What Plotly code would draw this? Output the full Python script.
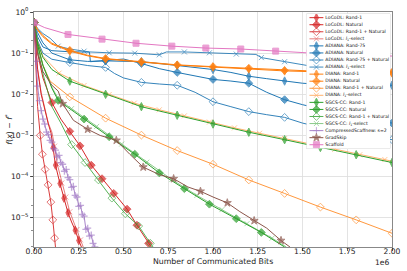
import plotly.graph_objects as go

# ---------------- data (x in millions of communicated bits) ----------------
locodl_rand1_x = [0, 0.01, 0.02, 0.04, 0.06, 0.08, 0.095, 0.107, 0.12, 0.145, 0.167, 0.19, 0.21, 0.23, 0.25, 0.265]
locodl_rand1_y = [0.55, 0.126, 0.040, 0.010, 4.0e-3, 1.9e-3, 1.15e-3, 5.1e-4, 1.9e-4, 6.8e-5, 3.0e-5, 1.32e-5, 7.9e-6, 5.0e-6, 2.8e-6, 1.95e-6]

locodl_nat_x = [0, 0.02, 0.05, 0.1, 0.15, 0.2, 0.257, 0.32, 0.38, 0.446, 0.52, 0.575, 0.64, 0.655]
locodl_nat_y = [0.55, 0.1, 0.025, 6.3e-3, 2.5e-3, 1.26e-3, 5.6e-4, 1.9e-4, 8.9e-5, 3.9e-5, 1.62e-5, 6.6e-6, 2.4e-6, 1.95e-6]

locodl_rn_x = [0, 0.005, 0.01, 0.02, 0.035, 0.047, 0.062, 0.079, 0.094, 0.105, 0.115, 0.12]
locodl_rn_y = [0.55, 0.158, 0.040, 5.0e-3, 1.0e-3, 3.5e-4, 1.5e-4, 6.3e-5, 2.4e-5, 8.9e-6, 3.2e-6, 1.95e-6]

locodl_l1_x = [0, 0.01, 0.02, 0.04, 0.06, 0.08, 0.1, 0.115, 0.13, 0.155, 0.178, 0.2, 0.22, 0.24, 0.26, 0.275]
locodl_l1_y = [0.55, 0.13, 0.042, 0.011, 4.3e-3, 2.0e-3, 1.2e-3, 5.5e-4, 2.0e-4, 7.0e-5, 3.2e-5, 1.4e-5, 8.3e-6, 5.2e-6, 2.9e-6, 1.95e-6]

adiana_rand_x = [0, 0.02, 0.05, 0.1, 0.2, 0.3, 0.4, 0.5, 0.6, 0.7, 0.8, 0.9, 1.0, 1.1, 1.2, 1.3, 1.4, 1.5, 1.6, 1.8, 2.0]
adiana_rand_y = [0.55, 0.316, 0.178, 0.1, 0.069, 0.063, 0.065, 0.063, 0.062, 0.056, 0.050, 0.045, 0.040, 0.034, 0.0275, 0.024, 0.021, 0.0186, 0.0174, 0.017, 0.0166]

adiana_nat_x = [0, 0.02, 0.05, 0.1, 0.2, 0.31, 0.315, 0.4, 0.5, 0.6, 0.7, 0.8, 0.9, 1.0, 1.1, 1.2, 1.3, 1.4, 1.5, 1.6, 1.8, 2.0]
adiana_nat_y = [0.55, 0.25, 0.141, 0.115, 0.108, 0.106, 0.062, 0.066, 0.072, 0.056, 0.042, 0.034, 0.028, 0.023, 0.021, 0.0186, 0.0112, 7.4e-3, 5.6e-3, 4.5e-3, 2.8e-3, 2.0e-3]

adiana_rn_x = [0, 0.02, 0.05, 0.1, 0.2, 0.3, 0.4, 0.45, 0.5, 0.6, 0.7, 0.8, 0.9, 1.0, 1.1, 1.2, 1.3, 1.4, 1.5, 1.6, 1.8, 2.0]
adiana_rn_y = [0.55, 0.2, 0.1, 0.071, 0.059, 0.050, 0.045, 0.032, 0.025, 0.0195, 0.0178, 0.0166, 0.0112, 6.6e-3, 5.0e-3, 3.8e-3, 3.2e-3, 2.75e-3, 2.0e-3, 1.58e-3, 1.12e-3, 7.9e-4]

adiana_l1_x = [0, 0.02, 0.05, 0.09, 0.135, 0.2, 0.28, 0.31, 0.42, 0.563, 0.70, 0.74, 0.84, 0.98, 1.13, 1.24, 1.27, 1.40, 1.54, 1.68, 1.82, 1.96, 2.0]
adiana_l1_y = [0.55, 0.40, 0.30, 0.23, 0.148, 0.126, 0.112, 0.107, 0.102, 0.100, 0.091, 0.107, 0.107, 0.102, 0.095, 0.093, 0.078, 0.062, 0.049, 0.045, 0.040, 0.036, 0.035]

diana_rand_x = [0, 0.02, 0.05, 0.1, 0.2, 0.3, 0.4, 0.6, 0.8, 1.0, 1.2, 1.4, 1.6, 1.8, 2.0]
diana_rand_y = [0.55, 0.36, 0.25, 0.165, 0.112, 0.086, 0.072, 0.060, 0.051, 0.046, 0.041, 0.037, 0.035, 0.034, 0.033]

diana_nat_x = [0, 0.02, 0.05, 0.1, 0.2, 0.3, 0.4, 0.6, 0.8, 1.0, 1.2, 1.4, 1.6, 1.8, 2.0]
diana_nat_y = [0.55, 0.38, 0.269, 0.174, 0.117, 0.089, 0.074, 0.062, 0.052, 0.047, 0.043, 0.038, 0.036, 0.035, 0.034]

diana_rn_x = [0, 0.02, 0.05, 0.09, 0.2, 0.3, 0.4, 0.6, 0.8, 1.0, 1.2, 1.4, 1.6, 1.8, 2.0]
diana_rn_y = [0.55, 0.158, 0.050, 0.0209, 8.7e-3, 4.7e-3, 2.63e-3, 1.02e-3, 4.3e-4, 2.0e-4, 8.3e-5, 3.9e-5, 1.82e-5, 8.9e-6, 4.2e-6]

diana_l1_x = [0, 0.02, 0.05, 0.14, 0.28, 0.42, 0.56, 0.70, 0.84, 0.98, 1.12, 1.26, 1.40, 1.54, 1.68, 1.82, 1.96, 2.0]
diana_l1_y = [0.55, 0.19, 0.084, 0.0327, 0.0164, 9.9e-3, 6.1e-3, 4.2e-3, 2.99e-3, 2.11e-3, 1.53e-3, 1.13e-3, 8.4e-4, 6.2e-4, 4.6e-4, 3.4e-4, 2.6e-4, 2.37e-4]

sgcs_rand_x = [0, 0.02, 0.05, 0.1, 0.2, 0.4, 0.6, 0.8, 1.0, 1.2, 1.4, 1.6, 1.8, 2.0]
sgcs_rand_y = [0.55, 0.178, 0.079, 0.040, 0.0209, 0.0100, 5.0e-3, 3.1e-3, 1.9e-3, 1.2e-3, 7.9e-4, 5.1e-4, 3.4e-4, 2.2e-4]

sgcs_nat_x = [0, 0.02, 0.05, 0.1, 0.135, 0.28, 0.42, 0.563, 0.70, 0.84, 0.98, 1.13, 1.27, 1.40]
sgcs_nat_y = [0.55, 0.158, 0.050, 0.0141, 7.1e-3, 2.5e-3, 9.3e-4, 3.5e-4, 1.23e-4, 5.1e-5, 2.14e-5, 9.5e-6, 4.4e-6, 1.95e-6]

sgcs_rn_x = [0, 0.02, 0.05, 0.1, 0.15, 0.21, 0.285, 0.36, 0.435, 0.51, 0.585, 0.65, 0.665]
sgcs_rn_y = [0.55, 0.126, 0.0316, 5.0e-3, 2.0e-3, 6.0e-4, 2.2e-4, 8.3e-5, 3.0e-5, 1.26e-5, 6.3e-6, 2.4e-6, 1.95e-6]

sgcs_l1_x = [0, 0.02, 0.05, 0.1, 0.14, 0.21, 0.35, 0.49, 0.63, 0.77, 0.91, 1.05, 1.19, 1.33, 1.41]
sgcs_l1_y = [0.55, 0.165, 0.052, 0.0148, 7.2e-3, 4.5e-3, 1.66e-3, 6.2e-4, 2.24e-4, 8.5e-5, 3.5e-5, 1.58e-5, 7.2e-6, 3.2e-6, 1.95e-6]

cscaff_x = [0, 0.01, 0.02, 0.03, 0.04, 0.05, 0.06, 0.07, 0.08, 0.09, 0.10, 0.11, 0.12, 0.13, 0.14, 0.15, 0.16,
            0.17, 0.18, 0.19, 0.20, 0.21, 0.22, 0.23, 0.24, 0.25, 0.26, 0.27, 0.28, 0.29, 0.30, 0.31, 0.32, 0.33, 0.34]
cscaff_y = [0.55, 0.063, 0.0158, 7.0e-3, 4.0e-3, 2.5e-3, 1.9e-3, 1.2e-3, 1.05e-3, 7.6e-4, 6.9e-4, 4.8e-4, 4.4e-4,
            3.0e-4, 3.3e-4, 2.2e-4, 2.0e-4, 1.35e-4, 1.5e-4, 9.5e-5, 8.5e-5, 5.5e-5, 5.8e-5, 3.5e-5, 3.2e-5, 1.9e-5,
            2.0e-5, 1.2e-5, 1.1e-5, 5.2e-6, 5.6e-6, 3.6e-6, 3.8e-6, 2.4e-6, 1.95e-6]

gradskip_x = [0, 0.02, 0.05, 0.1, 0.135, 0.16, 0.22, 0.3, 0.37, 0.46, 0.535, 0.61, 0.7, 0.78, 0.86, 0.93, 1.0, 1.08,
              1.15, 1.23, 1.3, 1.38, 1.43]
gradskip_y = [0.55, 0.1, 0.0355, 0.0166, 0.012, 5.9e-3, 2.34e-3, 1.41e-3, 1.0e-3, 7.6e-4, 3.5e-4, 1.7e-4, 1.12e-4,
              8.9e-5, 5.6e-5, 4.4e-5, 3.2e-5, 2.3e-5, 1.41e-5, 8.5e-6, 5.6e-6, 2.8e-6, 1.95e-6]

scaffold_x = [0, 0.06, 0.19, 0.38, 0.57, 0.77, 0.96, 1.155, 1.35, 1.54, 1.73, 1.93, 2.0]
scaffold_y = [0.55, 0.417, 0.285, 0.219, 0.174, 0.148, 0.133, 0.126, 0.112, 0.101, 0.093, 0.087, 0.085]

x_tick_vals = [0, 0.25, 0.5, 0.75, 1.0, 1.25, 1.5, 1.75, 2.0]
x_tick_text = ["0.00", "0.25", "0.50", "0.75", "1.00", "1.25", "1.50", "1.75", "2.00"]
y_tick_vals = [1, 1e-1, 1e-2, 1e-3, 1e-4, 1e-5]
y_tick_text = ["10<sup>0</sup>", "10<sup>−1</sup>", "10<sup>−2</sup>", "10<sup>−3</sup>",
               "10<sup>−4</sup>", "10<sup>−5</sup>"]

L1 = "<i>l</i><sub>1</sub>-select"
RED, BLUE, ORANGE, GREEN = "#d62728", "#1f77b4", "#ff7f0e", "#2ca02c"

series = [
    dict(name="LoCoDL: Rand-1", x=locodl_rand1_x, y=locodl_rand1_y, c=RED, sym="diamond-tall", op=1.0, mk=[0, 7, 8, 9, 10, 11, 13, 14], sz=6),
    dict(name="LoCoDL: Natural", x=locodl_nat_x, y=locodl_nat_y, c=RED, sym="diamond", op=1.0, mk=[0, 3, 5, 6, 7, 8, 9, 10, 11, 12], sz=6),
    dict(name="LoCoDL: Rand-1 + Natural", x=locodl_rn_x, y=locodl_rn_y, c=RED, sym="diamond-open", op=0.9, mk=[0, 4, 5, 6, 7, 8, 9, 10], sz=6),
    dict(name="LoCoDL: " + L1, x=locodl_l1_x, y=locodl_l1_y, c=RED, sym="x-thin-open", op=0.6, mk=[0, 7, 8, 9, 10, 11, 13, 14], sz=5),
    dict(name="ADIANA: Rand-75", x=adiana_rand_x, y=adiana_rand_y, c=BLUE, sym="diamond-tall", op=1.0, mk=[0, 4, 6, 8, 10, 12, 14, 16, 18, 19, 20], sz=6),
    dict(name="ADIANA: Natural", x=adiana_nat_x, y=adiana_nat_y, c=BLUE, sym="diamond", op=1.0, mk=[0, 7, 9, 11, 13, 15, 17, 19, 20, 21], sz=6),
    dict(name="ADIANA: Rand-75 + Natural", x=adiana_rn_x, y=adiana_rn_y, c=BLUE, sym="diamond-open", op=0.9, mk=[0, 4, 6, 9, 11, 13, 15, 17, 19, 20, 21], sz=6),
    dict(name="ADIANA: " + L1, x=adiana_l1_x, y=adiana_l1_y, c=BLUE, sym="x-thin-open", op=0.85, mk=[0, 4, 6, 8, 9, 10, 12, 13, 14, 16, 17, 18, 19, 20, 21], sz=5),
    dict(name="DIANA: Rand-1", x=diana_rand_x, y=diana_rand_y, c=ORANGE, sym="diamond-tall", op=1.0, mk=[0, 4, 6, 7, 8, 9, 10, 11, 12, 13, 14], sz=6),
    dict(name="DIANA: Natural", x=diana_nat_x, y=diana_nat_y, c=ORANGE, sym="diamond", op=1.0, mk=[0, 4, 6, 7, 8, 9, 10, 11, 12, 13, 14], sz=6),
    dict(name="DIANA: Rand-1 + Natural", x=diana_rn_x, y=diana_rn_y, c=ORANGE, sym="diamond-open", op=0.8, mk=[0, 4, 6, 7, 8, 9, 10, 11, 12, 13, 14], sz=6),
    dict(name="DIANA: " + L1, x=diana_l1_x, y=diana_l1_y, c=ORANGE, sym="x-thin-open", op=0.6, mk=[0, 3, 4, 5, 6, 7, 8, 9, 10, 11, 12, 13, 14, 15, 16], sz=5),
    dict(name="SGCS-CC: Rand-1", x=sgcs_rand_x, y=sgcs_rand_y, c=GREEN, sym="diamond-tall", op=1.0, mk=[0, 4, 5, 6, 7, 8, 9, 10, 11, 12, 13], sz=6),
    dict(name="SGCS-CC: Natural", x=sgcs_nat_x, y=sgcs_nat_y, c=GREEN, sym="diamond", op=1.0, mk=[0, 4, 5, 6, 7, 8, 9, 10, 11, 12], sz=6),
    dict(name="SGCS-CC: Rand-1 + Natural", x=sgcs_rn_x, y=sgcs_rn_y, c=GREEN, sym="diamond-open", op=0.8, mk=[0, 5, 6, 7, 8, 9, 10, 11], sz=6),
    dict(name="SGCS-CC: " + L1, x=sgcs_l1_x, y=sgcs_l1_y, c=GREEN, sym="x-thin-open", op=0.55, mk=[0, 5, 6, 7, 8, 9, 10, 11, 12, 13], sz=5),
    dict(name="CompressedScaffnew: s=2", x=cscaff_x, y=cscaff_y, c="#9467bd", sym="cross-thin-open", op=0.8, mk=list(range(len(cscaff_x))), sz=5),
    dict(name="GradSkip", x=gradskip_x, y=gradskip_y, c="#8c564b", sym="star", op=1.0, mk=[0, 5, 7, 9, 11, 13, 15, 17, 19, 21], sz=6),
    dict(name="Scaffold", x=scaffold_x, y=scaffold_y, c="#e377c2", sym="square", op=1.0, mk=[0, 2, 3, 4, 5, 6, 7, 8, 9, 10, 11], sz=6),
]

FONT = "DejaVu Sans"
W, H = 407, 271
ML, MR, MT, MB = 34, 13, 6, 24
PW, PH = W - ML - MR, H - MT - MB

fig = go.Figure()

for s in series:
    n = len(s["x"])
    sizes = [s["sz"] if i in s["mk"] else 0 for i in range(n)]
    lws = [(1.3 if s["sym"] == "cross-thin-open" else 1) if i in s["mk"] else 0 for i in range(n)]
    fig.add_trace(go.Scatter(
        x=s["x"], y=s["y"], mode="lines+markers", opacity=s["op"],
        line=dict(color=s["c"], width=1),
        marker=dict(symbol=s["sym"], size=sizes, color=s["c"], line=dict(color=s["c"], width=lws)),
        showlegend=False, hoverinfo="skip"))

# ---------------- custom legend in its own (hidden) axes ----------------
LX0, LX1 = 308, 392      # legend box in pixels (left/right)
LY0, LY1 = 8, 146        # legend box in pixels (top/bottom)
ROW0, ROWH = 11.8, 7.24  # first row centre, row pitch (px)
nser = len(series)
y2_top = (ROW0 - LY0) / ROWH
y2_bot = -(LY1 - ROW0) / ROWH
x2_dom = [(LX0 - ML) / PW, (LX1 - ML) / PW]
y2_dom = [(MT + PH - LY1) / PH, (MT + PH - LY0) / PH]
hx = [3 / (LX1 - LX0), 10 / (LX1 - LX0), 17 / (LX1 - LX0)]
tx = 19 / (LX1 - LX0)

for i, s in enumerate(series):
    fig.add_trace(go.Scatter(
        x=hx, y=[-i] * 3, xaxis="x2", yaxis="y2", mode="lines+markers", opacity=s["op"],
        line=dict(color=s["c"], width=1),
        marker=dict(symbol=s["sym"], size=[0, s["sz"], 0], color=s["c"], line=dict(color=s["c"], width=[0, 1, 0])),
        showlegend=False, hoverinfo="skip"))
fig.add_trace(go.Scatter(
    x=[tx] * nser, y=[-i for i in range(nser)], text=[s["name"] for s in series],
    mode="text", textposition="middle right", xaxis="x2", yaxis="y2",
    textfont=dict(family=FONT, size=4.6, color="#111111"), showlegend=False, hoverinfo="skip"))

fig.add_shape(type="rect", xref="x2 domain", yref="y2 domain", x0=0, x1=1, y0=0, y1=1,
              fillcolor="rgba(255,255,255,0.8)", line=dict(color="#cccccc", width=0.8), layer="below")

axis_common = dict(showline=True, linecolor="#888888", linewidth=1, mirror=True, zeroline=False,
                   showgrid=True, gridcolor="#dcdcdc", gridwidth=0.8, ticks="outside", ticklen=3,
                   tickwidth=0.8, tickcolor="#333333",
                   tickfont=dict(family=FONT, size=7.6, color="#222222"))

fig.update_layout(
    width=W, height=H, margin=dict(l=ML, r=MR, t=MT, b=MB),
    paper_bgcolor="white", plot_bgcolor="white", showlegend=False,
    font=dict(family=FONT, size=7.6, color="#222222"),
    xaxis=dict(range=[0, 2.0], tickvals=x_tick_vals, ticktext=x_tick_text, ticklabelstandoff=-6, **axis_common),
    yaxis=dict(type="log", range=[-5.71, 0], tickvals=y_tick_vals, ticktext=y_tick_text,
               minor=dict(ticks="outside", ticklen=1.8, tickwidth=0.6, tickcolor="#444444", showgrid=False),
               **axis_common),
    xaxis2=dict(domain=x2_dom, range=[0, 1], visible=False, anchor="y2", fixedrange=True),
    yaxis2=dict(domain=y2_dom, range=[y2_bot, y2_top], visible=False, anchor="x2", fixedrange=True),
    annotations=[
        dict(text="Number of Communicated Bits", xref="paper", yref="paper", x=0.5, y=(MT + PH - 262) / PH,
             xanchor="center", yanchor="middle", showarrow=False, font=dict(family=FONT, size=7.8, color="#222222")),
        dict(text="1e6", xref="paper", yref="paper", x=1.0, y=(MT + PH - 263) / PH,
             xanchor="right", yanchor="middle", showarrow=False, font=dict(family=FONT, size=7.6, color="#222222")),
        dict(text="<i>f</i>(<i>x</i>) − <i>f</i><sup>*</sup>", xref="paper", yref="paper",
             x=(8 - ML) / PW, y=0.5, textangle=-90, xanchor="center", yanchor="middle", showarrow=False,
             font=dict(family=FONT, size=7.8, color="#222222")),
    ],
)

fig.write_html("out.html", config={"displayModeBar": False, "staticPlot": True},
               post_script="document.body.style.margin='0';document.body.style.padding='0';document.body.style.overflow='hidden';")
